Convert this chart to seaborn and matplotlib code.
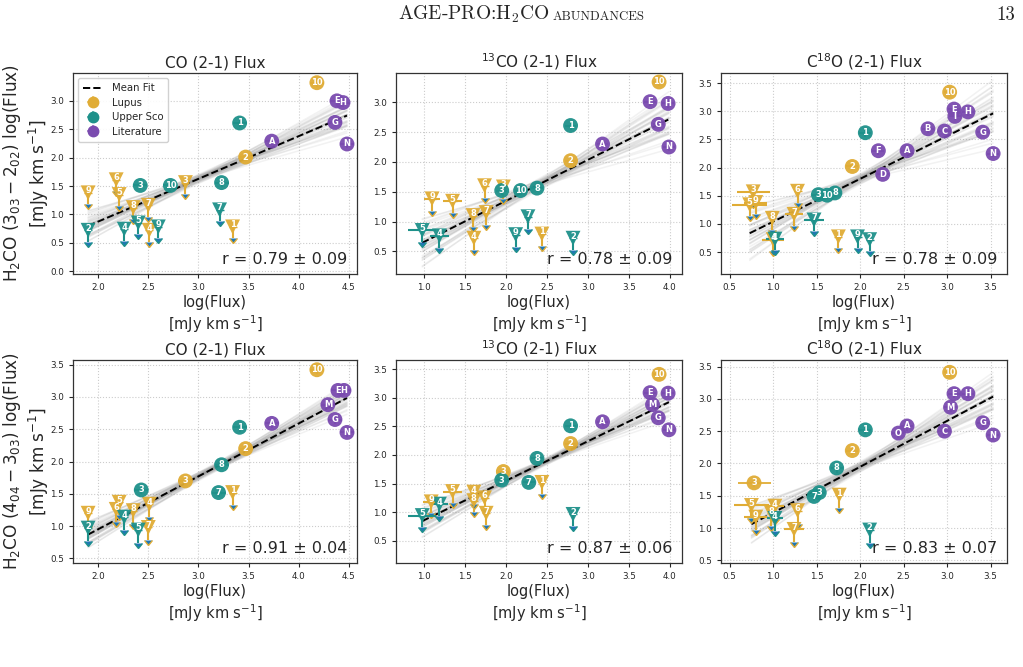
"""
AGE-PRO: H2CO flux vs CO isotopologue flux correlations (page 13 figure).
"""

import numpy as np
import pandas as pd
import matplotlib.pyplot as plt
import seaborn as sns
from matplotlib.lines import Line2D

sns.set_style("ticks")

GROUP_NAMES = {"L": "Lupus", "U": "Upper Sco", "T": "Literature"}
PALETTE = {"Lupus": "#E0AC35", "Upper Sco": "#1E918A", "Literature": "#7A4BAF"}

# ── Panel data ──────────────────────────────────────────────────────────────
# 1. CO (2-1) vs H2CO 3_03-2_02
co303_lab = ["10", "2", "9", "6", "5", "8", "7", "4", "3", "1",
             "1", "3", "10", "8", "2", "4", "5", "9", "7",
             "A", "E", "H", "G", "N"]
co303_grp = "L" * 10 + "U" * 9 + "T" * 5
co303_x = [4.18, 3.47, 1.90, 2.18, 2.21, 2.35, 2.50, 2.51, 2.87, 3.34,
           3.41, 2.42, 2.72, 3.23, 1.90, 2.26, 2.40, 2.60, 3.21,
           3.73, 4.38, 4.44, 4.36, 4.48]
co303_y = [3.32, 2.01, 1.38, 1.61, 1.35, 1.12, 1.16, 0.72, 1.56, 0.78,
           2.61, 1.51, 1.51, 1.56, 0.72, 0.74, 0.85, 0.78, 1.08,
           2.29, 3.00, 2.97, 2.62, 2.24]
co303_lim = [0, 0, 1, 1, 1, 1, 1, 1, 1, 1,
             0, 0, 0, 0, 1, 1, 1, 1, 1,
             0, 0, 0, 0, 0]
co303_xerr = [0] * 24

# 2. 13CO (2-1) vs H2CO 3_03-2_02
c13o303_lab = ["10", "2", "9", "5", "6", "3", "8", "7", "4", "1",
               "1", "3", "10", "8", "5", "4", "7", "9", "2",
               "A", "E", "H", "G", "N"]
c13o303_grp = "L" * 10 + "U" * 9 + "T" * 5
c13o303_x = [3.87, 2.79, 1.10, 1.35, 1.74, 1.97, 1.60, 1.76, 1.61, 2.44,
             2.79, 1.95, 2.18, 2.38, 0.98, 1.19, 2.27, 2.12, 2.82,
             3.18, 3.76, 3.98, 3.86, 3.99]
c13o303_y = [3.34, 2.02, 1.38, 1.34, 1.60, 1.58, 1.10, 1.15, 0.72, 0.79,
             2.61, 1.52, 1.52, 1.56, 0.85, 0.76, 1.08, 0.78, 0.72,
             2.30, 3.01, 2.98, 2.63, 2.25]
c13o303_lim = [0, 0, 1, 1, 1, 1, 1, 1, 1, 1,
               0, 0, 0, 0, 1, 1, 1, 1, 1,
               0, 0, 0, 0, 0]
c13o303_xerr = [0, 0, 0.10, 0.12, 0, 0, 0, 0, 0, 0,
                0, 0, 0, 0, 0.17, 0.12, 0, 0, 0,
                0, 0, 0, 0, 0]

# 3. C18O (2-1) vs H2CO 3_03-2_02
c18o303_lab = ["10", "2", "3", "5", "9", "6", "8", "7", "1", "4",
               "1", "3", "10", "8", "7", "4", "9", "2",
               "E", "I", "H", "B", "C", "G", "F", "A", "D", "N"]
c18o303_grp = "L" * 10 + "U" * 8 + "T" * 10
c18o303_x = [3.03, 1.91, 0.77, 0.73, 0.80, 1.28, 0.99, 1.24, 1.75, 1.00,
             2.06, 1.52, 1.62, 1.71, 1.47, 1.02, 1.97, 2.11,
             3.08, 3.09, 3.24, 2.78, 2.97, 3.41, 2.21, 2.54, 2.26, 3.53]
c18o303_y = [3.34, 2.02, 1.57, 1.34, 1.38, 1.58, 1.10, 1.17, 0.77, 0.72,
             2.62, 1.52, 1.51, 1.55, 1.07, 0.73, 0.77, 0.72,
             3.04, 2.91, 2.99, 2.69, 2.65, 2.63, 2.30, 2.30, 1.88, 2.25]
c18o303_lim = [0, 0, 1, 1, 1, 1, 1, 1, 1, 1,
               0, 0, 0, 0, 1, 1, 1, 1,
               0, 0, 0, 0, 0, 0, 0, 0, 0, 0]
c18o303_xerr = [0, 0, 0.19, 0.20, 0.13, 0, 0, 0.10, 0, 0.13,
                0, 0, 0, 0, 0.12, 0.10, 0, 0,
                0, 0, 0, 0, 0, 0, 0, 0, 0, 0]

# 4. CO (2-1) vs H2CO 4_04-3_03
co404_lab = ["10", "2", "3", "1", "9", "5", "6", "8", "4", "7",
             "1", "8", "3", "7", "2", "4", "5",
             "A", "E", "H", "M", "G", "N"]
co404_grp = "L" * 10 + "U" * 7 + "T" * 6
co404_x = [4.18, 3.47, 2.87, 3.34, 1.90, 2.21, 2.18, 2.35, 2.51, 2.50,
           3.41, 3.23, 2.43, 3.20, 1.90, 2.26, 2.40,
           3.73, 4.39, 4.45, 4.29, 4.36, 4.48]
co404_y = [3.42, 2.20, 1.70, 1.52, 1.20, 1.37, 1.26, 1.24, 1.34, 0.98,
           2.53, 1.95, 1.56, 1.52, 0.97, 1.14, 0.94,
           2.59, 3.10, 3.10, 2.88, 2.65, 2.45]
co404_lim = [0, 0, 0, 1, 1, 1, 1, 1, 1, 1,
             0, 0, 0, 0, 1, 1, 1,
             0, 0, 0, 0, 0, 0]
co404_xerr = [0] * 23

# 5. 13CO (2-1) vs H2CO 4_04-3_03
c13o404_lab = ["10", "2", "3", "1", "9", "5", "4", "8", "6", "7",
               "1", "8", "3", "7", "5", "4", "2",
               "A", "E", "H", "M", "G", "N"]
c13o404_grp = "L" * 10 + "U" * 7 + "T" * 6
c13o404_x = [3.87, 2.79, 1.97, 2.44, 1.09, 1.35, 1.61, 1.61, 1.74, 1.76,
             2.79, 2.38, 1.95, 2.28, 0.98, 1.19, 2.82,
             3.18, 3.76, 3.98, 3.79, 3.86, 3.99]
c13o404_y = [3.41, 2.20, 1.71, 1.52, 1.18, 1.36, 1.35, 1.20, 1.25, 0.98,
             2.51, 1.94, 1.56, 1.52, 0.94, 1.14, 0.96,
             2.58, 3.09, 3.08, 2.88, 2.65, 2.44]
c13o404_lim = [0, 0, 0, 1, 1, 1, 1, 1, 1, 1,
               0, 0, 0, 0, 1, 1, 1,
               0, 0, 0, 0, 0, 0]
c13o404_xerr = [0, 0, 0, 0, 0.10, 0.12, 0, 0, 0, 0,
                0, 0, 0, 0, 0.17, 0.10, 0,
                0, 0, 0, 0, 0, 0]

# 6. C18O (2-1) vs H2CO 4_04-3_03
c18o404_lab = ["10", "2", "3", "1", "5", "4", "8", "9", "6", "7",
               "1", "8", "7", "3", "4", "2",
               "E", "H", "M", "A", "O", "C", "G", "N"]
c18o404_grp = "L" * 10 + "U" * 6 + "T" * 8
c18o404_x = [3.03, 1.91, 0.78, 1.76, 0.75, 1.02, 0.98, 0.80, 1.28, 1.24,
             2.06, 1.73, 1.47, 1.53, 1.02, 2.11,
             3.08, 3.24, 3.04, 2.54, 2.44, 2.97, 3.41, 3.53]
c18o404_y = [3.41, 2.20, 1.70, 1.51, 1.35, 1.34, 1.23, 1.17, 1.27, 0.98,
             2.52, 1.93, 1.49, 1.55, 1.15, 0.97,
             3.08, 3.08, 2.87, 2.58, 2.47, 2.50, 2.63, 2.44]
c18o404_lim = [0, 0, 0, 1, 1, 1, 1, 1, 1, 1,
               0, 0, 0, 0, 1, 1,
               0, 0, 0, 0, 0, 0, 0, 0]
c18o404_xerr = [0, 0, 0.19, 0, 0.20, 0.10, 0, 0.13, 0, 0.12,
                0, 0, 0, 0, 0.09, 0,
                0, 0, 0, 0, 0, 0, 0, 0]

# mean linear fit and its spread, one entry per panel
FIT_SLOPE = [0.753, 0.688, 0.760, 0.819, 0.691, 0.710]
FIT_ICPT = [-0.633, -0.031, 0.280, -0.686, 0.166, 0.528]
SLOPE_SD = [0.10, 0.12, 0.16, 0.07, 0.08, 0.10]
PIVOT_SD = [0.05, 0.06, 0.06, 0.04, 0.04, 0.05]
R_TEXT = ["r = 0.79 ± 0.09", "r = 0.78 ± 0.09", "r = 0.78 ± 0.09",
          "r = 0.91 ± 0.04", "r = 0.87 ± 0.06", "r = 0.83 ± 0.07"]

# posterior draws, in units of the spread (slope, pivot offset)
DRAWS = [(-1.2, 0.4), (0.3, -0.9), (1.5, 0.2), (-0.4, 1.1), (0.8, 0.7),
         (-1.8, -0.3), (0.1, 0.0), (2.1, -0.5), (-0.7, -1.4), (0.5, 1.6),
         (-0.2, -0.2), (1.1, -1.1), (-1.5, 0.9), (0.9, 0.1), (-0.9, 0.5),
         (0.0, -0.7), (1.8, 0.8), (-0.5, -0.6), (0.6, -0.1), (-2.2, 0.2),
         (0.4, 0.3), (-1.0, -0.9), (1.3, 1.2), (-0.1, 0.6), (0.7, -1.6),
         (-0.6, 0.0), (0.2, -0.4), (-1.3, -0.1), (1.0, 0.5), (-0.3, 1.3),
         (2.4, 0.1), (-0.8, -0.2), (0.3, 0.9), (-1.6, 1.0), (1.4, -0.8),
         (0.0, 0.4), (-0.4, -1.2), (0.6, 0.2), (-2.5, -0.4), (1.7, 0.0)]

DET_ERR = 0.07   # small flux errors on detections
ARROW = 0.20     # length of upper-limit arrows

TITLES = ["CO (2-1) Flux", "$^{13}$CO (2-1) Flux", "C$^{18}$O (2-1) Flux"]
YLABELS = ["H$_2$CO ($3_{03}-2_{02}$) log(Flux)\n[mJy km s$^{-1}$]",
           "H$_2$CO ($4_{04}-3_{03}$) log(Flux)\n[mJy km s$^{-1}$]"]
XLABEL = "log(Flux)\n[mJy km s$^{-1}$]"

PANELS = [
    (co303_lab, co303_grp, co303_x, co303_y, co303_lim, co303_xerr),
    (c13o303_lab, c13o303_grp, c13o303_x, c13o303_y, c13o303_lim, c13o303_xerr),
    (c18o303_lab, c18o303_grp, c18o303_x, c18o303_y, c18o303_lim, c18o303_xerr),
    (co404_lab, co404_grp, co404_x, co404_y, co404_lim, co404_xerr),
    (c13o404_lab, c13o404_grp, c13o404_x, c13o404_y, c13o404_lim, c13o404_xerr),
    (c18o404_lab, c18o404_grp, c18o404_x, c18o404_y, c18o404_lim, c18o404_xerr),
]

XLIMS = [(1.75, 4.58), (0.66, 4.15), (0.40, 3.69)] * 2
YLIMS = [(-0.05, 3.49), (0.12, 3.49), (0.11, 3.68),
         (0.43, 3.57), (0.11, 3.66), (0.46, 3.60)]
XTICKS = [np.arange(2.0, 4.51, 0.5), np.arange(1.0, 4.01, 0.5),
          np.arange(0.5, 3.51, 0.5)] * 2
YTICKS = [np.arange(0.0, 3.01, 0.5), np.arange(0.5, 3.01, 0.5),
          np.arange(0.5, 3.51, 0.5), np.arange(0.5, 3.51, 0.5),
          np.arange(0.5, 3.51, 0.5), np.arange(0.5, 3.51, 0.5)]

# axes boxes in figure fractions
COL_LEFT = [0.0714, 0.3871, 0.7048]
COL_W = [0.2776, 0.2796, 0.2796]
ROW_BOTTOM = [0.5892, 0.1559]
ROW_H = [0.3013, 0.3043]

# ── Figure ──────────────────────────────────────────────────────────────────
fig = plt.figure(figsize=(10.23, 6.67), dpi=100)

fig.text(0.389, 0.970, "AGE-PRO:H$_2$CO", family="cmr10", math_fontfamily="cm",
         fontsize=14, va="baseline", ha="left")
fig.text(0.5400, 0.970, "ABUNDANCES", family="cmr10", fontsize=9.2,
         va="baseline", ha="left")
fig.text(0.992, 0.970, "13", family="cmr10", fontsize=13.5,
         va="baseline", ha="right")

for i, (lab, grp, xs, ys, lim, xerr) in enumerate(PANELS):
    row, col = divmod(i, 3)
    ax = fig.add_axes([COL_LEFT[col], ROW_BOTTOM[row], COL_W[col], ROW_H[row]])

    df = pd.DataFrame({"label": lab, "group": [GROUP_NAMES[g] for g in grp],
                       "x": xs, "y": ys, "lim": np.array(lim, bool),
                       "xerr": xerr})
    df["kind"] = np.where(df["lim"], "limit", "detection")

    # gray posterior lines + mean fit
    xr = np.array([df["x"].min(), df["x"].max()])
    x0 = df["x"].mean()
    y0 = FIT_ICPT[i] + FIT_SLOPE[i] * x0
    for ds, dp in DRAWS:
        b = FIT_SLOPE[i] + ds * SLOPE_SD[i]
        ax.plot(xr, y0 + dp * PIVOT_SD[i] + b * (xr - x0), color="gray",
                alpha=0.10, lw=1.1, zorder=1)
    ax.plot(xr, FIT_ICPT[i] + FIT_SLOPE[i] * xr, "k--", lw=1.4, zorder=2)

    # error bars and upper-limit arrows
    for name, c in PALETTE.items():
        sub = df[df["group"] == name]
        det = sub[~sub["lim"]]
        ul = sub[sub["lim"]]
        if len(det):
            ax.errorbar(det["x"], det["y"], xerr=np.maximum(det["xerr"], DET_ERR),
                        yerr=DET_ERR, fmt="none", ecolor=c, elinewidth=1.3,
                        zorder=3)
        if len(ul):
            ax.errorbar(ul["x"], ul["y"], yerr=ARROW, uplims=True, fmt="none",
                        ecolor=c, elinewidth=1.5, capsize=2.6, zorder=3)
            wide = ul[ul["xerr"] > 0]
            if len(wide):
                ax.errorbar(wide["x"], wide["y"], xerr=wide["xerr"], fmt="none",
                            ecolor=c, elinewidth=1.5, zorder=3)

    sns.scatterplot(data=df, x="x", y="y", hue="group", style="kind",
                    markers={"detection": "o", "limit": "v"}, palette=PALETTE,
                    s=115, linewidth=0, alpha=0.95, legend=False, ax=ax,
                    zorder=4)
    for _, r in df.iterrows():
        ax.annotate(r["label"], (r["x"], r["y"]),
                    xytext=(0, 1.5 if r["lim"] else 0), textcoords="offset points",
                    ha="center", va="center", color="white", fontsize=6,
                    fontweight="bold", zorder=5)

    ax.text(0.965, 0.035, R_TEXT[i], transform=ax.transAxes, ha="right",
            va="bottom", fontsize=11.5, zorder=6)

    ax.set_xlim(XLIMS[i])
    ax.set_ylim(YLIMS[i])
    ax.set_xticks(XTICKS[i])
    ax.set_yticks(YTICKS[i])
    ax.tick_params(labelsize=6.3, length=3, width=0.8)
    ax.grid(True, linestyle=":", color="0.8", linewidth=0.8)
    ax.set_axisbelow(True)
    for s in ax.spines.values():
        s.set_linewidth(0.9)
        s.set_color("0.2")

    ax.set_title(TITLES[col], fontsize=11, pad=4)
    ax.set_xlabel(XLABEL, fontsize=10.5, labelpad=2)
    if col == 0:
        ax.set_ylabel(YLABELS[row], fontsize=12.2)
        ax.yaxis.set_label_coords(-0.077, 0.5)
    else:
        ax.set_ylabel("")

    if i == 0:
        handles = [Line2D([], [], color="k", ls="--", lw=1.4)]
        for name, c in PALETTE.items():
            handles.append((Line2D([], [], marker="o", ls="", color=c, ms=7.5),
                            Line2D([], [], marker="+", ls="", color=c, ms=9,
                                   mew=1.2, alpha=0.7)))
        ax.legend(handles, ["Mean Fit", "Lupus", "Upper Sco", "Literature"],
                  loc="upper left", fontsize=7.3, handlelength=2.0,
                  borderpad=0.5, labelspacing=0.45, framealpha=0.9)

plt.savefig("out.png", dpi=100)
